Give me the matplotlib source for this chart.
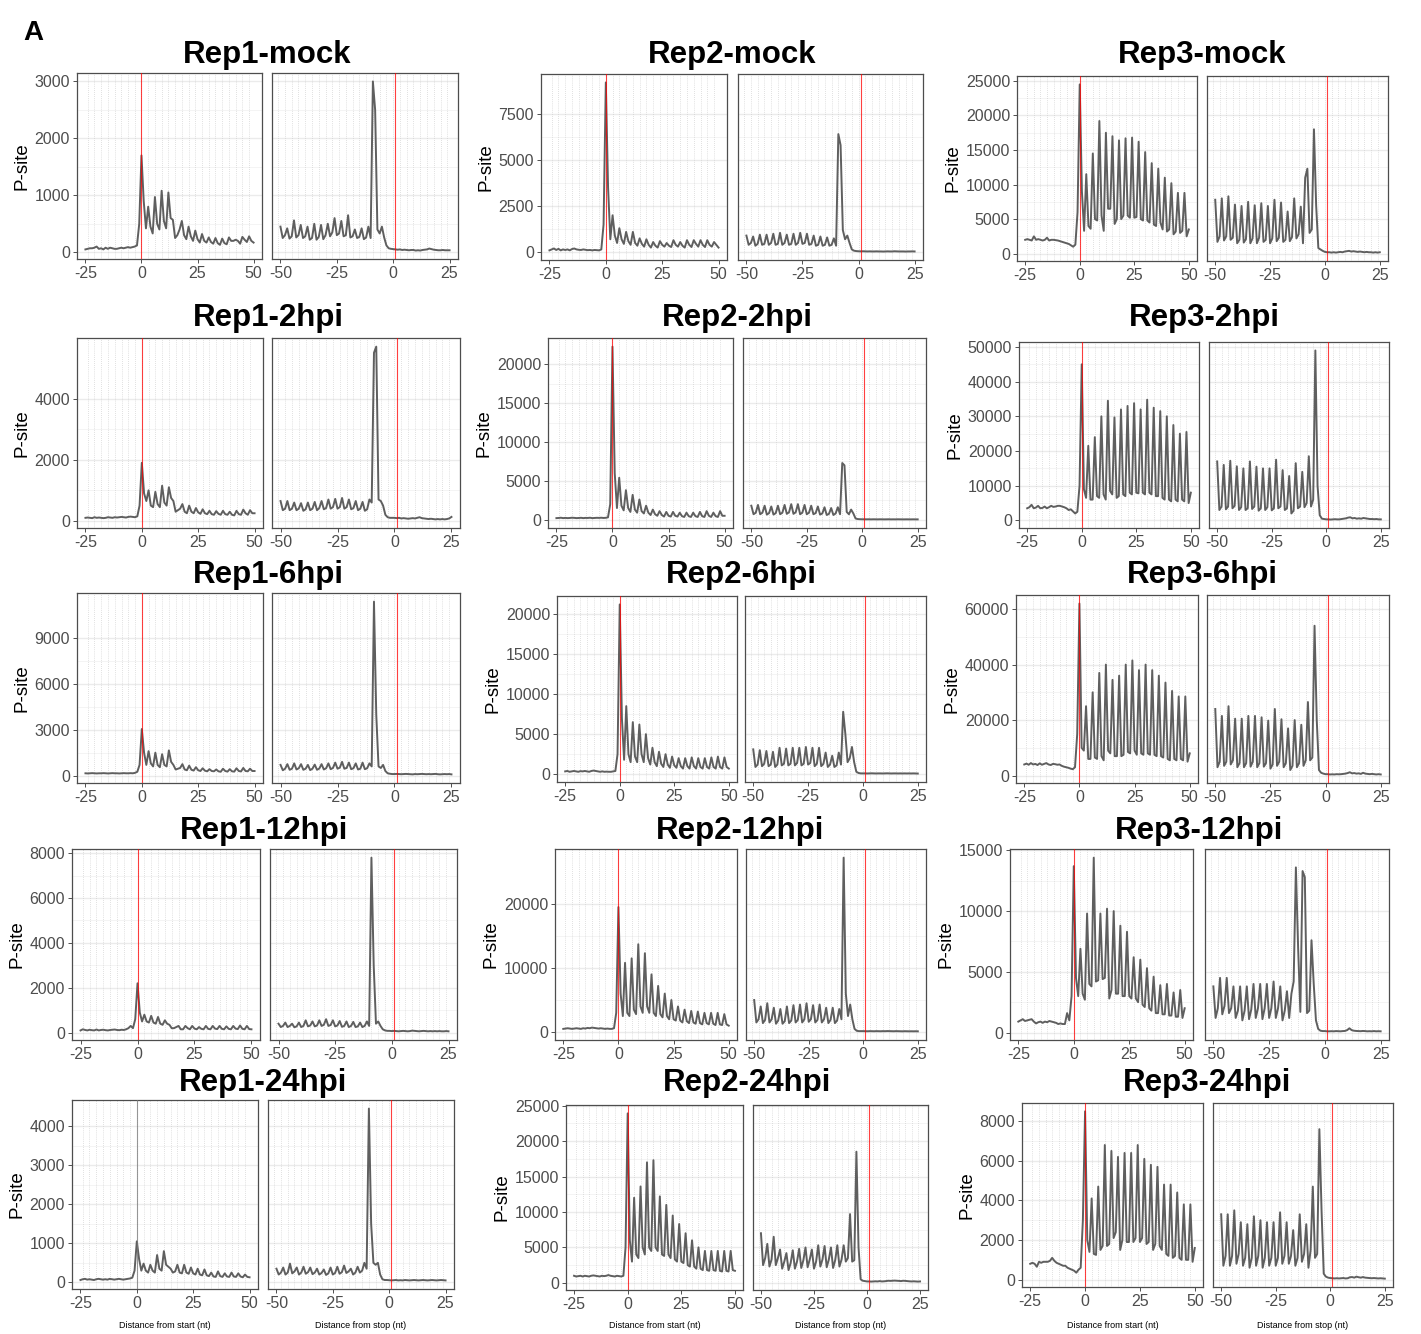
import numpy as np
import matplotlib.pyplot as plt

plt.rcParams['font.family'] = ['Liberation Sans', 'DejaVu Sans']
plt.rcParams['axes.unicode_minus'] = False

# positions (nt) of the two metaprofiles
start_x = np.arange(-25, 51)
stop_x = np.arange(-50, 26)

reps = ['Rep1', 'Rep2', 'Rep3']
conditions = ['mock', '2hpi', '6hpi', '12hpi', '24hpi']

# ---- P-site counts ----
rep1_mock_start = [50, 60, 70, 70, 80, 100, 60, 70, 50, 80, 60, 80, 70, 60, 60, 70, 80, 70, 80, 90, 80, 90, 100, 120, 500,
                   1700, 900, 420, 800, 450, 330, 970, 500, 400, 1080, 550, 420, 1050, 600, 570, 250, 300, 400,
                   550, 300, 230, 450, 280, 200, 380, 230, 170, 320, 200, 170, 260, 180, 150, 250, 160, 130,
                   240, 160, 140, 260, 200, 200, 220, 200, 150, 270, 220, 180, 280, 200, 170]
rep1_mock_stop = [450, 250, 300, 420, 240, 280, 560, 260, 300, 480, 250, 280, 450, 220, 250, 500, 220, 270,
                  480, 230, 300, 500, 280, 350, 600, 300, 330, 550, 280, 300, 650, 260, 280, 400, 250, 270,
                  420, 230, 260, 450, 250, 3000, 2500, 400, 330, 450, 260, 120, 70, 60,
                  55, 50, 45, 50, 40, 45, 40, 35, 40, 40, 30, 35, 30, 40, 45, 50, 65, 55, 45, 40, 35, 35, 40, 35, 35, 35]

rep2_mock_start = [100, 150, 200, 120, 180, 100, 150, 120, 150, 100, 170, 200, 150, 130, 120, 150, 130, 110, 120, 100, 120, 110, 100, 150, 1500,
                   9200, 3500, 700, 2000, 900, 500, 1300, 700, 450, 1100, 600, 400, 1100, 500, 350, 750, 450, 300,
                   700, 400, 250, 550, 350, 250, 600, 400, 300, 500, 350, 280, 650, 400, 300, 550, 350, 250,
                   650, 400, 280, 650, 450, 300, 650, 400, 280, 650, 400, 300, 550, 400, 250]
rep2_mock_stop = [900, 400, 500, 850, 350, 450, 950, 400, 450, 950, 400, 500, 1000, 400, 450, 1050, 400, 500,
                  950, 400, 450, 1000, 400, 500, 1050, 450, 500, 1000, 400, 450, 900, 350, 400, 850, 350, 400,
                  800, 350, 400, 750, 350, 6400, 5800, 1200, 700, 900, 500, 150, 80, 60,
                  50, 45, 50, 45, 40, 45, 40, 40, 45, 40, 40, 35, 40, 45, 40, 40, 50, 45, 40, 40, 40, 35, 40, 40, 45, 40]

rep3_mock_start = [2000, 2100, 2000, 1900, 2500, 2000, 2100, 2000, 1900, 2000, 2300, 1900, 2000, 2000, 1950, 1900, 1800, 1700, 1600, 1500,
                   1400, 1200, 1000, 1300, 6000,
                   24500, 9000, 3300, 11500, 4000, 3600, 14500, 5000, 4800, 19200, 5500, 3300, 17500, 6500, 6500,
                   17000, 4300, 5000, 16400, 5000, 5500, 16700, 5500, 5200, 16800, 5200, 5300, 16200, 5000, 4800,
                   14700, 4800, 4500, 13100, 4200, 4000, 12300, 4500, 3500, 11000, 3200, 3500, 10200, 2800, 3200,
                   8800, 3000, 3300, 8800, 2500, 3500]
rep3_mock_stop = [7800, 1700, 2500, 8000, 1900, 2500, 8300, 2000, 2300, 7100, 1500, 2000, 6900, 1600, 2100,
                  7500, 1500, 2200, 7000, 1500, 2300, 7300, 1700, 2000, 6900, 1500, 2200, 7800, 1800, 2300,
                  7400, 1700, 2000, 6100, 1800, 2400, 8000, 2200, 2800, 6800, 1500, 11000, 12300, 3000, 3500,
                  18000, 7000, 800, 600, 400,
                  250, 200, 200, 150, 200, 150, 200, 250, 200, 300, 350, 400, 300, 350, 300, 250, 300, 250, 200, 250,
                  200, 200, 150, 200, 150, 200]

rep1_2hpi_start = [100, 110, 100, 90, 120, 100, 110, 100, 90, 100, 120, 110, 100, 120, 110, 120, 130, 120, 110, 130, 140, 130, 120, 150, 500,
                   1900, 900, 650, 1000, 500, 450, 950, 550, 450, 1150, 600, 500, 1100, 750, 650, 300, 350, 400,
                   550, 300, 250, 500, 300, 250, 420, 280, 230, 380, 250, 220, 330, 220, 200, 320, 230, 200,
                   330, 220, 200, 300, 200, 180, 330, 220, 200, 370, 250, 200, 350, 250, 250]
rep1_2hpi_stop = [650, 350, 400, 650, 350, 400, 600, 350, 400, 580, 330, 380, 600, 350, 400, 620, 350, 420,
                  650, 380, 420, 700, 400, 450, 720, 400, 450, 750, 400, 450, 700, 380, 420, 650, 350, 400,
                  620, 330, 380, 700, 600, 5500, 5700, 700, 650, 500, 200, 120, 100, 100,
                  100, 90, 100, 80, 90, 80, 70, 80, 90, 80, 100, 120, 90, 80, 70, 60, 70, 60, 50, 60, 50, 60, 50, 60, 80, 130]

rep2_2hpi_start = [200, 220, 250, 200, 230, 200, 220, 250, 230, 200, 220, 240, 200, 230, 220, 250, 200, 220, 240, 230, 250, 220, 240, 300, 2000,
                   22300, 6000, 1500, 5400, 1800, 1200, 3800, 1500, 1000, 3200, 1300, 900, 2600, 1100, 800,
                   1800, 900, 600, 1300, 700, 500, 1100, 600, 400, 1000, 500, 400, 1000, 500, 400, 900, 450, 350,
                   900, 450, 350, 900, 450, 350, 1000, 450, 350, 1100, 500, 350, 900, 450, 350, 1100, 500, 500]
rep2_2hpi_stop = [1800, 700, 900, 1900, 700, 900, 1800, 650, 850, 1700, 650, 850, 1800, 700, 900, 1900, 750, 950,
                  2000, 750, 950, 2000, 700, 900, 1900, 700, 900, 1800, 700, 850, 1700, 650, 800, 1600, 600, 750,
                  1500, 600, 800, 1600, 700, 7300, 7000, 1000, 700, 1300, 800, 150, 80, 60,
                  50, 50, 45, 50, 40, 50, 45, 40, 50, 45, 40, 45, 50, 40, 45, 40, 50, 45, 40, 40, 45, 40, 40, 45, 40, 40]

rep3_2hpi_start = [3500, 3800, 4500, 3500, 3700, 4200, 3500, 3600, 4000, 3500, 3800, 4200, 3900, 4000, 4200, 4200, 4000, 3800, 3500, 3000,
                   3200, 2600, 2000, 2500, 10000,
                   45000, 9000, 6500, 21500, 6000, 6000, 24000, 7000, 6500, 30000, 7500, 6000, 34500, 8500, 7500,
                   29700, 6500, 7000, 32000, 7500, 7000, 33000, 8000, 7500, 33800, 8000, 7800, 32000, 8000, 7500,
                   34800, 8000, 7500, 32500, 7000, 7000, 31500, 6500, 6000, 30000, 6000, 5500, 27500, 6000, 5500,
                   25000, 6000, 5500, 25500, 5000, 8000]
rep3_2hpi_stop = [17000, 3000, 4000, 16000, 3200, 4000, 17200, 3500, 4200, 15600, 3000, 3800, 15000, 3000, 3500,
                  17000, 3300, 4000, 15500, 2800, 3500, 15000, 3000, 3800, 15000, 2900, 3500, 17500, 3500, 4000,
                  14500, 3000, 3500, 12800, 2000, 2800, 16500, 3500, 4000, 14000, 3800, 5000, 18500, 4000, 6000,
                  49000, 10000, 1500, 500, 400,
                  300, 300, 250, 300, 350, 300, 300, 400, 500, 600, 800, 900, 600, 700, 500, 600, 500, 700, 600, 500,
                  400, 400, 350, 400, 300, 300]

rep1_6hpi_start = [150, 140, 150, 160, 150, 140, 150, 150, 160, 150, 140, 150, 160, 150, 150, 140, 150, 160, 150, 150, 160, 150, 180, 250, 700,
                   3050, 1500, 700, 1600, 800, 600, 1500, 700, 550, 1400, 700, 600, 1650, 900, 700, 400, 450, 500,
                   750, 400, 350, 650, 380, 330, 550, 350, 300, 480, 320, 280, 420, 300, 280, 400, 280, 250,
                   450, 300, 260, 420, 280, 260, 480, 300, 270, 500, 300, 280, 450, 300, 300]
rep1_6hpi_stop = [700, 350, 450, 750, 380, 450, 800, 400, 480, 750, 380, 450, 700, 360, 450, 720, 380, 460,
                  750, 400, 480, 800, 420, 500, 850, 450, 520, 900, 450, 500, 850, 420, 480, 800, 400, 450,
                  850, 420, 480, 800, 600, 11400, 4000, 600, 500, 700, 300, 150, 120, 100,
                  100, 110, 100, 90, 100, 110, 100, 90, 80, 100, 90, 100, 110, 100, 90, 100, 90, 100, 110, 90, 80, 90, 100, 90, 100, 80]

rep2_6hpi_start = [350, 400, 300, 350, 400, 350, 300, 380, 350, 400, 350, 300, 400, 450, 400, 350, 300, 350, 300, 320, 300, 300, 350, 400, 2500,
                   21200, 7000, 1800, 8500, 2500, 1500, 6500, 2200, 1500, 6200, 2500, 1500, 5000, 2000, 1200,
                   3300, 1500, 1000, 2800, 1300, 900, 2500, 1200, 800, 2200, 1100, 800, 2000, 1000, 700,
                   2000, 1000, 700, 2100, 1000, 700, 2000, 900, 700, 2000, 900, 700, 2100, 900, 700,
                   2200, 900, 700, 2100, 900, 700]
rep2_6hpi_stop = [3100, 900, 1200, 3000, 1000, 1300, 2900, 1000, 1200, 2800, 900, 1200, 3300, 1100, 1300,
                  3200, 1100, 1300, 3300, 1100, 1400, 3300, 1100, 1300, 3400, 1200, 1400, 3300, 1000, 1300,
                  3300, 1000, 1300, 2700, 900, 1200, 2300, 900, 1100, 2700, 1200, 7800, 5000, 1500, 2000,
                  3400, 1500, 300, 150, 100,
                  100, 100, 90, 100, 110, 100, 90, 100, 100, 90, 100, 110, 100, 90, 100, 100, 90, 100, 90, 100,
                  90, 100, 90, 100, 90, 80]

rep3_6hpi_start = [4000, 4300, 3900, 4500, 4000, 4200, 3800, 4400, 3900, 4200, 4500, 4000, 3800, 4200, 4100, 3900, 4000, 3500, 3200, 3000,
                   2800, 2500, 2300, 3000, 15000,
                   62000, 10000, 9000, 25000, 6000, 6000, 30000, 6500, 6000, 37000, 7000, 5500, 40000, 9000, 8000,
                   34500, 7000, 7000, 36000, 7000, 7500, 40000, 8500, 8000, 41500, 9000, 7500, 38000, 8000, 7500,
                   40000, 8000, 7500, 38000, 7500, 7000, 36000, 7000, 6500, 33500, 6000, 5500, 30500, 6000, 5500,
                   28500, 6000, 5500, 28500, 5000, 8000]
rep3_6hpi_stop = [24000, 3000, 5000, 21500, 3500, 5000, 25000, 4000, 5500, 20500, 3000, 4500, 20500, 3000, 4500,
                  21500, 3200, 5000, 21500, 3000, 4500, 21000, 3200, 4500, 19800, 2500, 4000, 24000, 3500, 5000,
                  20300, 3000, 4500, 17000, 2000, 3500, 20000, 3000, 4500, 18300, 3500, 5500, 26500, 5500, 6500,
                  54000, 20000, 2000, 1000, 700,
                  500, 500, 400, 450, 400, 500, 450, 500, 600, 700, 900, 1200, 800, 900, 700, 800, 600, 1000, 700, 600,
                  500, 600, 500, 400, 500, 400]

rep1_12hpi_start = [100, 150, 120, 100, 130, 110, 100, 140, 100, 120, 130, 110, 100, 120, 130, 140, 120, 110, 130, 120, 150, 200, 300, 200, 600,
                    2200, 900, 500, 800, 500, 450, 750, 450, 400, 700, 400, 350, 550, 400, 350, 200, 200, 250,
                    300, 150, 150, 300, 200, 150, 300, 180, 150, 250, 170, 150, 300, 170, 150, 300, 180, 160,
                    300, 170, 150, 280, 170, 150, 300, 180, 160, 320, 170, 150, 300, 160, 150]
rep1_12hpi_stop = [400, 250, 300, 450, 250, 300, 400, 240, 280, 450, 250, 300, 550, 280, 320, 500, 280, 320,
                   550, 300, 350, 600, 300, 340, 550, 280, 320, 520, 260, 300, 500, 250, 300, 480, 250, 280,
                   450, 250, 300, 500, 300, 7800, 3000, 400, 500, 300, 150, 100, 80, 80,
                   70, 80, 70, 60, 70, 80, 70, 60, 70, 90, 80, 70, 60, 70, 80, 70, 60, 70, 60, 70, 60, 70, 60, 60, 70, 60]

rep2_12hpi_start = [500, 550, 600, 550, 500, 550, 600, 550, 500, 600, 550, 650, 600, 700, 650, 600, 550, 600, 550, 500, 550, 500, 500, 600, 3000,
                    19500, 6000, 2500, 10800, 3000, 2500, 11500, 3500, 2800, 13700, 4000, 3000, 12300, 4000, 3000,
                    9000, 3000, 2500, 7200, 2800, 2300, 6000, 2500, 2000, 5000, 2000, 1800, 4000, 1800, 1500,
                    3500, 1700, 1400, 3300, 1500, 1300, 3200, 1400, 1200, 3000, 1400, 1200, 3000, 1300, 1100,
                    3000, 1200, 1100, 2800, 1200, 1000]
rep2_12hpi_stop = [5000, 1500, 2000, 4000, 1400, 1900, 4500, 1500, 2000, 3800, 1300, 1800, 3600, 1300, 1700,
                   4000, 1400, 1800, 4200, 1500, 1900, 4300, 1500, 2000, 4500, 1600, 2000, 4200, 1500, 1900,
                   4300, 1500, 2000, 3800, 1400, 1900, 3800, 1400, 1800, 3600, 2000, 27200, 6000, 2500, 4300,
                   2000, 500, 200, 150, 150,
                   150, 140, 130, 150, 140, 130, 150, 140, 130, 150, 140, 160, 150, 140, 130, 150, 140, 130, 120, 140,
                   130, 120, 130, 120, 130, 120]

rep3_12hpi_start = [900, 1000, 1100, 950, 1000, 1050, 1100, 900, 750, 850, 900, 800, 900, 850, 950, 900, 850, 800, 700, 750,
                    700, 700, 1600, 1000, 3000,
                    13700, 4500, 3000, 6900, 3200, 2700, 9800, 4000, 3800, 14400, 4200, 4300, 9800, 4400, 4500,
                    10200, 2800, 3500, 10000, 3200, 3200, 8800, 3000, 3000, 8300, 3000, 2800, 6200, 2800, 2500,
                    6000, 2300, 2100, 5300, 2000, 1800, 4600, 1600, 1600, 3900, 1500, 1500, 4000, 1400, 1400,
                    3300, 1300, 1300, 3500, 1200, 2000]
rep3_12hpi_stop = [3800, 1200, 2000, 4500, 1500, 2200, 4500, 1600, 2000, 3800, 1200, 1800, 3800, 1000, 1800,
                   3800, 1100, 1900, 4000, 1200, 2000, 4000, 1100, 2000, 4000, 1200, 2000, 4200, 1200, 2000,
                   3800, 1000, 1800, 3400, 1200, 3200, 4200, 13600, 7000, 1700, 13300, 12800, 1600, 1800, 7600,
                   4000, 1000, 300, 150, 120,
                   120, 100, 100, 110, 100, 120, 110, 100, 120, 130, 200, 350, 200, 150, 130, 120, 110, 130, 120, 100,
                   110, 100, 120, 100, 110, 100]

rep1_24hpi_start = [60, 80, 90, 70, 80, 70, 60, 80, 90, 80, 70, 80, 70, 90, 80, 70, 80, 90, 80, 70, 80, 90, 100, 120, 300,
                    1050, 600, 300, 480, 300, 250, 450, 300, 250, 700, 350, 300, 800, 450, 400, 350, 250, 280,
                    450, 250, 230, 450, 250, 220, 380, 230, 200, 350, 200, 180, 330, 180, 160, 250, 150, 140,
                    280, 160, 140, 230, 150, 140, 250, 150, 140, 230, 150, 130, 200, 140, 130]
rep1_24hpi_stop = [350, 200, 250, 380, 200, 250, 480, 230, 280, 380, 200, 250, 400, 220, 260, 380, 210, 250,
                   350, 200, 240, 330, 190, 230, 380, 200, 240, 400, 220, 260, 430, 240, 280, 350, 200, 250,
                   400, 250, 300, 500, 350, 4450, 1500, 500, 450, 500, 200, 80, 60, 60,
                   55, 50, 55, 60, 50, 55, 50, 60, 55, 50, 55, 60, 55, 50, 55, 60, 55, 50, 55, 60, 55, 50, 55, 60, 55, 50]

rep2_24hpi_start = [1000, 900, 950, 1000, 900, 1000, 950, 900, 1000, 1050, 1000, 950, 900, 1000, 950, 1000, 1100, 1000, 950, 900,
                    1000, 950, 900, 1000, 5000,
                    23900, 6000, 3000, 12000, 4000, 3500, 13600, 5000, 4000, 17000, 5000, 4500, 17300, 5000, 4500,
                    12200, 4000, 3800, 11000, 4000, 3500, 9500, 3300, 3000, 8300, 3000, 2800, 7000, 2500, 2300,
                    6000, 2300, 2000, 5000, 2000, 1800, 4500, 1800, 1700, 4500, 1800, 1700, 4500, 1700, 1600,
                    4500, 1700, 1600, 4500, 1800, 1700]
rep2_24hpi_stop = [7000, 2500, 3500, 5500, 2300, 3300, 6500, 2500, 3500, 4700, 2000, 3000, 4200, 1800, 2800,
                   4600, 2000, 3000, 4800, 2100, 3200, 5000, 2200, 3300, 4700, 2000, 3000, 5300, 2300, 3300,
                   5200, 2200, 3300, 5000, 2100, 3200, 5300, 2300, 3300, 5300, 3000, 3500, 9700, 3000, 3200,
                   18500, 5000, 500, 300, 250,
                   200, 200, 180, 200, 220, 200, 250, 200, 220, 250, 300, 280, 300, 320, 300, 280, 250, 300, 280, 250,
                   220, 200, 220, 200, 180, 200]

rep3_24hpi_start = [800, 850, 800, 650, 900, 850, 900, 900, 900, 950, 1100, 950, 850, 800, 750, 700, 700, 600, 550, 500,
                    450, 350, 500, 600, 3000,
                    8500, 2000, 1400, 4100, 1300, 1250, 4700, 1500, 1700, 6800, 1700, 1800, 6500, 2100, 2400,
                    6200, 1500, 2000, 6400, 1900, 1900, 6400, 1900, 2100, 6800, 1900, 2100, 6100, 1800, 1900,
                    5800, 1500, 1800, 5700, 1700, 1500, 4800, 1300, 1200, 4800, 1100, 1200, 4400, 1100, 1000,
                    3800, 1000, 1000, 3800, 900, 1600]
rep3_24hpi_stop = [3300, 700, 1200, 3300, 700, 1200, 3500, 800, 1300, 2900, 700, 1100, 2800, 600, 1100,
                   3200, 700, 1200, 3000, 600, 1100, 2900, 700, 1100, 2900, 700, 1100, 3400, 800, 1200,
                   2900, 800, 1200, 2500, 700, 1100, 3300, 900, 1300, 2800, 600, 1500, 4700, 1100, 1300,
                   7600, 3500, 300, 150, 100,
                   80, 70, 60, 70, 60, 70, 80, 60, 70, 120, 130, 100, 150, 120, 100, 130, 100, 90, 80, 70,
                   80, 70, 60, 70, 60, 50]

yticks_rep1 = [[0, 1000, 2000, 3000], [0, 2000, 4000], [0, 3000, 6000, 9000],
               [0, 2000, 4000, 6000, 8000], [0, 1000, 2000, 3000, 4000]]
yticks_rep2 = [[0, 2500, 5000, 7500], [0, 5000, 10000, 15000, 20000], [0, 5000, 10000, 15000, 20000],
               [0, 10000, 20000], [0, 5000, 10000, 15000, 20000, 25000]]
yticks_rep3 = [[0, 5000, 10000, 15000, 20000, 25000], [0, 10000, 20000, 30000, 40000, 50000],
               [0, 20000, 40000, 60000], [0, 5000, 10000, 15000], [0, 2000, 4000, 6000, 8000]]

profiles = {
    ('Rep1', 'mock'): (rep1_mock_start, rep1_mock_stop),
    ('Rep2', 'mock'): (rep2_mock_start, rep2_mock_stop),
    ('Rep3', 'mock'): (rep3_mock_start, rep3_mock_stop),
    ('Rep1', '2hpi'): (rep1_2hpi_start, rep1_2hpi_stop),
    ('Rep2', '2hpi'): (rep2_2hpi_start, rep2_2hpi_stop),
    ('Rep3', '2hpi'): (rep3_2hpi_start, rep3_2hpi_stop),
    ('Rep1', '6hpi'): (rep1_6hpi_start, rep1_6hpi_stop),
    ('Rep2', '6hpi'): (rep2_6hpi_start, rep2_6hpi_stop),
    ('Rep3', '6hpi'): (rep3_6hpi_start, rep3_6hpi_stop),
    ('Rep1', '12hpi'): (rep1_12hpi_start, rep1_12hpi_stop),
    ('Rep2', '12hpi'): (rep2_12hpi_start, rep2_12hpi_stop),
    ('Rep3', '12hpi'): (rep3_12hpi_start, rep3_12hpi_stop),
    ('Rep1', '24hpi'): (rep1_24hpi_start, rep1_24hpi_stop),
    ('Rep2', '24hpi'): (rep2_24hpi_start, rep2_24hpi_stop),
    ('Rep3', '24hpi'): (rep3_24hpi_start, rep3_24hpi_stop),
}
yticks = {'Rep1': yticks_rep1, 'Rep2': yticks_rep2, 'Rep3': yticks_rep3}

bad = [(k, len(a), len(b)) for k, (a, b) in profiles.items() if len(a) != 76 or len(b) != 76]
if bad:
    raise ValueError(str(bad))

# pixel layout: (start_left, start_right, stop_left, stop_right, top, bottom)
layout = {
    (0, 0): (77, 262, 272, 458, 73, 259), (0, 1): (541, 727, 738, 923, 74, 260), (0, 2): (1017, 1197, 1207, 1388, 76, 261),
    (1, 0): (77, 263, 272, 460, 338, 528), (1, 1): (548, 733, 743, 926, 338, 528), (1, 2): (1019, 1199, 1209, 1389, 342, 528),
    (2, 0): (77, 263, 272, 460, 593, 783), (2, 1): (557, 737, 745, 926, 596, 782), (2, 2): (1016, 1198, 1207, 1389, 595, 783),
    (3, 0): (72, 260, 270, 457, 849, 1040), (3, 1): (555, 737, 746, 926, 849, 1040), (3, 2): (1010, 1193, 1205, 1389, 849, 1040),
    (4, 0): (72, 258, 268, 454, 1100, 1289), (4, 1): (566, 743, 753, 928, 1105, 1290), (4, 2): (1022, 1203, 1213, 1393, 1103, 1287),
}
title_y = [55, 318, 575, 831, 1083]

W, H = 1421, 1334
fig = plt.figure(figsize=(W / 100, H / 100), dpi=100)
fig.patch.set_facecolor('white')


def box(l, r, t, b):
    return [l / W, 1 - b / H, (r - l) / W, (b - t) / H]


def style_panel(ax, xlim, ticks, ylim, xticks, dots):
    ax.set_xlim(xlim)
    ax.set_ylim(ylim)
    ax.set_xticks(xticks)
    ax.set_yticks(ticks)
    for v in ticks:
        ax.axhline(v, color='#ebebeb', lw=1.0, zorder=0)
    for a, b in zip(ticks[:-1], ticks[1:]):
        ax.axhline((a + b) / 2, color='#f2f2f2', lw=0.6, zorder=0)
    for v in dots:
        ax.axvline(v, color='#c4c4c4', lw=0.5, ls=(0, (1, 2)), zorder=0)
    for s in ax.spines.values():
        s.set_color('#4d4d4d')
        s.set_linewidth(0.9)
    ax.tick_params(axis='both', colors='#333333', labelcolor='#4d4d4d', labelsize=11.5,
                   length=3, width=0.6, pad=2)


for r, cond in enumerate(conditions):
    for c, rep in enumerate(reps):
        sl, sr, pl, pr, t, b = layout[(r, c)]
        start_vals, stop_vals = profiles[(rep, cond)]
        ticks = yticks[rep][r]
        lo = min(min(start_vals), min(stop_vals))
        hi = max(max(start_vals), max(stop_vals))
        pad = 0.05 * (hi - lo)
        ylim = (lo - pad, hi + pad)

        ax1 = fig.add_axes(box(sl, sr, t, b))
        style_panel(ax1, (-28.75, 53.75), ticks, ylim, [-25, 0, 25, 50], np.arange(-24, 51, 3))
        ax1.plot(start_x, start_vals, color='#5f5f5f', lw=1.4, zorder=2)
        line_col = '#777777' if (rep, cond) == ('Rep1', '24hpi') else 'red'
        ax1.axvline(0, color=line_col, lw=0.8, alpha=0.75, zorder=3)
        ax1.set_ylabel('P-site', fontsize=13.5, labelpad=3)

        ax2 = fig.add_axes(box(pl, pr, t, b))
        style_panel(ax2, (-53.75, 28.75), ticks, ylim, [-50, -25, 0, 25], np.arange(-51, 26, 3))
        ax2.plot(stop_x, stop_vals, color='#5f5f5f', lw=1.4, zorder=2)
        ax2.axvline(1, color='red', lw=0.8, alpha=0.75, zorder=3)
        ax2.tick_params(axis='y', left=False, labelleft=False)

        fig.text((sl + pr) / 2 / W, 1 - title_y[r] / H, f'{rep}-{cond}', ha='center', va='center',
                 fontsize=22.5, fontweight='bold')
        if r == len(conditions) - 1:
            fig.text((sl + sr) / 2 / W, 1 - 1325 / H, 'Distance from start (nt)', ha='center', va='center', fontsize=6.5)
            fig.text((pl + pr) / 2 / W, 1 - 1325 / H, 'Distance from stop (nt)', ha='center', va='center', fontsize=6.5)

fig.text(33 / W, 1 - 33 / H, 'A', ha='center', va='center', fontsize=20, fontweight='bold')

fig.savefig('out.png', dpi=100)
